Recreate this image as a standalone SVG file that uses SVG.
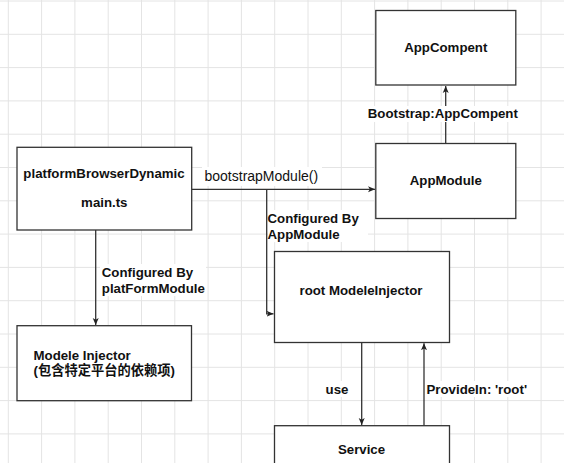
<svg xmlns="http://www.w3.org/2000/svg" width="564" height="463" viewBox="0 0 564 463">
<defs>
<style>
.grid{stroke:#e4e4e4;stroke-width:1;fill:none}
.box{fill:#fff;stroke:#333;stroke-width:1.3}
.t{font-family:"Liberation Sans",Arial,"Noto Sans CJK SC",sans-serif;font-size:13.25px;font-weight:bold;fill:#111}
.c{text-anchor:middle}
.r{font-weight:normal;font-size:14px}
.edge{fill:none;stroke:#333;stroke-width:1.3}
.lbg{fill:#fff}
</style>
<marker id="arr" markerUnits="userSpaceOnUse" markerWidth="8" markerHeight="8" refX="7" refY="3.5" orient="auto">
<path d="M0,0.5 L7,3.5 L0,6.5 L1.8,3.5 Z" fill="#222"/>
</marker>
</defs>
<rect width="564" height="463" fill="#fff"/>
<path class="grid" d="M8.3,0V463M41.6,0V463M74.9,0V463M108.2,0V463M141.5,0V463M174.8,0V463M208.1,0V463M241.4,0V463M274.7,0V463M308,0V463M341.3,0V463M374.6,0V463M407.9,0V463M441.2,0V463M474.5,0V463M507.8,0V463M541.1,0V463M0,1H564M0,34.3H564M0,67.6H564M0,100.9H564M0,134.2H564M0,167.5H564M0,200.8H564M0,234.1H564M0,267.4H564M0,300.7H564M0,334H564M0,367.3H564M0,400.6H564M0,433.9H564"/>
<g id="connectors">
<path class="edge" d="M192,189.3H375" marker-end="url(#arr)"/>
<path class="edge" d="M266.7,189.3V313.8H273.5" marker-end="url(#arr)"/>
<path class="edge" d="M95.7,230V325" marker-end="url(#arr)"/>
<path class="edge" d="M445.7,143.5V86" marker-end="url(#arr)"/>
<path class="edge" d="M361.7,342.5V425" marker-end="url(#arr)"/>
<path class="edge" d="M424,425.7V343.2" marker-end="url(#arr)"/>
<rect class="lbg" x="202" y="167" width="120" height="19"/>
<text class="t r" x="204.5" y="180.5">bootstrapModule()</text>
<rect class="lbg" x="268" y="210" width="100" height="32"/>
<text class="t" x="267.5" y="222.7">Configured By</text>
<text class="t" x="267.5" y="238.5">AppModule</text>
<rect class="lbg" x="100" y="264" width="106" height="32"/>
<text class="t" x="101.8" y="276.7">Configured By</text>
<text class="t" x="101.8" y="292.7">platFormModule</text>
<rect class="lbg" x="366" y="106" width="154" height="16"/>
<text class="t c" x="442.8" y="118.3">Bootstrap:AppCompent</text>
<rect class="lbg" x="324" y="381" width="27" height="16"/>
<text class="t c" x="337" y="393.5">use</text>
<rect class="lbg" x="425.5" y="381" width="104" height="16"/>
<text class="t" x="426.5" y="393.5">ProvideIn: 'root'</text>
</g>
<g id="platformBrowserDynamic">
<rect class="box" x="17" y="147.3" width="174.7" height="82.7"/>
<text class="t c" x="104" y="177.6">platformBrowserDynamic</text>
<text class="t c" x="104.3" y="207.3">main.ts</text>
</g>
<g id="AppCompent">
<rect class="box" x="375.8" y="10.5" width="140" height="74.5"/>
<text class="t c" x="445.8" y="52">AppCompent</text>
</g>
<g id="AppModule">
<rect class="box" x="375.8" y="143.5" width="140" height="75"/>
<text class="t c" x="445.8" y="185.3">AppModule</text>
</g>
<g id="rootModeleInjector">
<rect class="box" x="274.5" y="251.5" width="175" height="91"/>
<text class="t c" x="361" y="295.3">root ModeleInjector</text>
</g>
<g id="ModeleInjector">
<rect class="box" x="17" y="325.7" width="174.5" height="75"/>
<text class="t" x="33.5" y="359.5">Modele Injector</text>
<text class="t" x="33.5" y="375.3">(包含特定平台的依赖项)</text>
</g>
<g id="Service">
<rect class="box" x="274.5" y="425.7" width="175" height="60"/>
<text class="t c" x="361.5" y="453.8">Service</text>
</g>
</svg>
